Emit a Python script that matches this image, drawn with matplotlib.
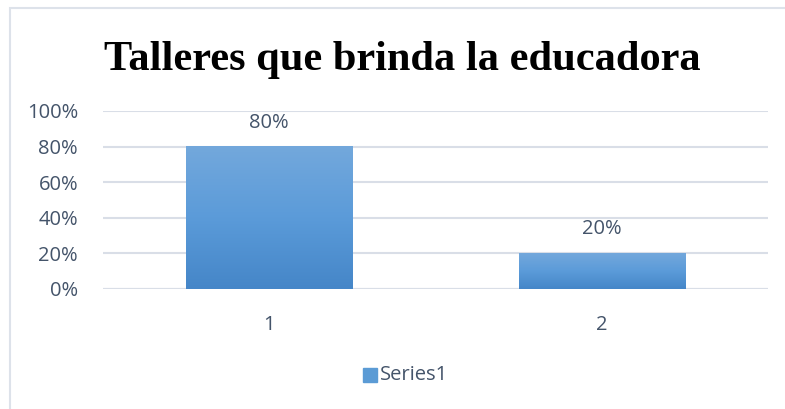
import numpy as np
import matplotlib.pyplot as plt
from matplotlib.patches import Rectangle
from matplotlib.colors import LinearSegmentedColormap

# ---- Datos ----
categorias = ['1', '2']
valores = [0.80, 0.20]
ticks_y = [0, 0.2, 0.4, 0.6, 0.8, 1.0]
etiquetas_y = ['0%', '20%', '40%', '60%', '80%', '100%']
titulo = 'Talleres que brinda la educadora'
serie = 'Series1'

W, H = 785, 409
TXT = '#44546a'
GRID = '#d9dee7'
FS = 14.5
cmap = LinearSegmentedColormap.from_list('azul', ['#4586c8', '#5b9bd9', '#73a8dc'])

fig = plt.figure(figsize=(W / 100, H / 100), dpi=100)
fig.patch.set_facecolor('white')

# borde del área del gráfico
fig.add_artist(Rectangle((9.5 / W, -0.1), 1.2, 1 - 8 / H + 0.1, transform=fig.transFigure,
                         fill=False, edgecolor='#dde2ea', lw=1.5))

ax = fig.add_axes([103 / W, 1 - 289 / H, (768 - 103) / W, (289 - 111) / H])
x = np.arange(len(categorias))

barras = ax.bar(x, valores, width=0.5, color='none', zorder=3)
grad = np.linspace(0, 1, 256).reshape(-1, 1)
for b, v in zip(barras, valores):
    x0 = b.get_x()
    ax.imshow(grad, cmap=cmap, origin='lower', aspect='auto', zorder=3,
              extent=(x0, x0 + b.get_width(), 0, v), vmin=0, vmax=1)
    ax.text(b.get_x() + b.get_width() / 2, v + 0.135, f'{v:.0%}', ha='center', va='center',
            fontsize=FS, color=TXT, family='Open Sans')
ax.set_xlim(-0.5, len(categorias) - 0.5)
ax.set_ylim(0, 1)

ax.set_yticks(ticks_y)
ax.set_yticklabels(etiquetas_y)
ax.set_xticks(x)
ax.set_xticklabels(categorias)
ax.tick_params(length=0, labelsize=FS, labelcolor=TXT)
ax.tick_params(axis='y', pad=18)
ax.tick_params(axis='x', pad=19)
for t in ax.get_xticklabels() + ax.get_yticklabels():
    t.set_family('Open Sans')
ax.grid(axis='y', color=GRID, lw=1.5, zorder=0)
for s in ax.spines.values():
    s.set_visible(False)
ax.axhline(0, color=GRID, lw=1.5, zorder=2)

fig.text((105 + 700) / 2 / W, 1 - 70 / H, titulo, ha='center', va='baseline',
         fontsize=30.5, fontweight='bold', family='Liberation Serif', color='black')

# leyenda
fig.add_artist(Rectangle((363 / W, 1 - 382 / H), 14 / W, 14 / H, transform=fig.transFigure,
                         color='#5b9bd5'))
fig.text(380 / W, 1 - 375 / H, serie, ha='left', va='center', fontsize=FS,
         color=TXT, family='Open Sans')

fig.savefig('out.png', dpi=100)
